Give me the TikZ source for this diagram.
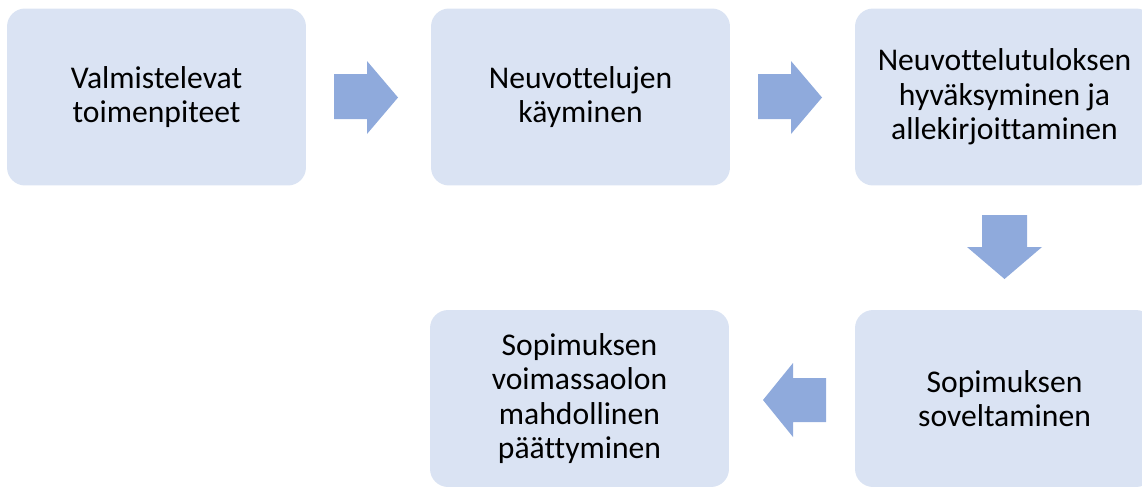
\documentclass[tikz,border=0pt]{standalone}
\usepackage{fontspec}
\setmainfont[Ligatures=NoCommon]{Carlito}
\usepackage{tikz}
\definecolor{boxblue}{HTML}{DAE3F3}
\definecolor{arrowblue}{HTML}{8FAADC}
\tikzset{
  phase/.style={fill=boxblue, rounded corners=0.36cm, minimum width=5.98cm,
    minimum height=3.54cm, align=center, inner sep=0pt,
    font=\fontsize{18}{19.7}\selectfont},
  blockarrow/.style={fill=arrowblue}
}

\begin{document}
\begin{tikzpicture}[x=0.02cm,y=-0.02cm]
  \useasboundingbox (0,0) rectangle (1142,487);
  \clip (0,0) rectangle (1142,487);

  \node (valm) at (156.5,97) [phase] {Valmistelevat\\toimenpiteet};
  \node (neuv) at (580.5,97) [phase] {Neuvottelujen\\käyminen};
  \node (hyv) at (1004.5,97) [phase] {Neuvottelutuloksen\\hyväksyminen ja\\allekirjoittaminen};
  \node (sov) at (1004.5,398.5) [phase] {Sopimuksen\\soveltaminen};
  \node (paat) at (579.5,398.5) [phase] {Sopimuksen\\voimassaolon\\mahdollinen\\päättyminen};

\fill[blockarrow]
   (334,74) -- (367,74) -- (367,61) -- (398,97.5) -- (367,134) -- (367,119) -- (334,119) -- cycle;
\fill[blockarrow]
   (758,74) -- (791,74) -- (791,61) -- (822,97.5) -- (791,134) -- (791,119) -- (758,119) -- cycle;
\fill[blockarrow]
   (982,215) -- (1027,215) -- (1027,247) -- (1042,247) -- (1004.5,279) -- (967,247) -- (982,247) -- cycle;
\fill[blockarrow]
   (826,378) -- (793,378) -- (793,363) -- (763,400) -- (793,437) -- (793,422) -- (826,422) -- cycle;

\end{tikzpicture}
\end{document}
